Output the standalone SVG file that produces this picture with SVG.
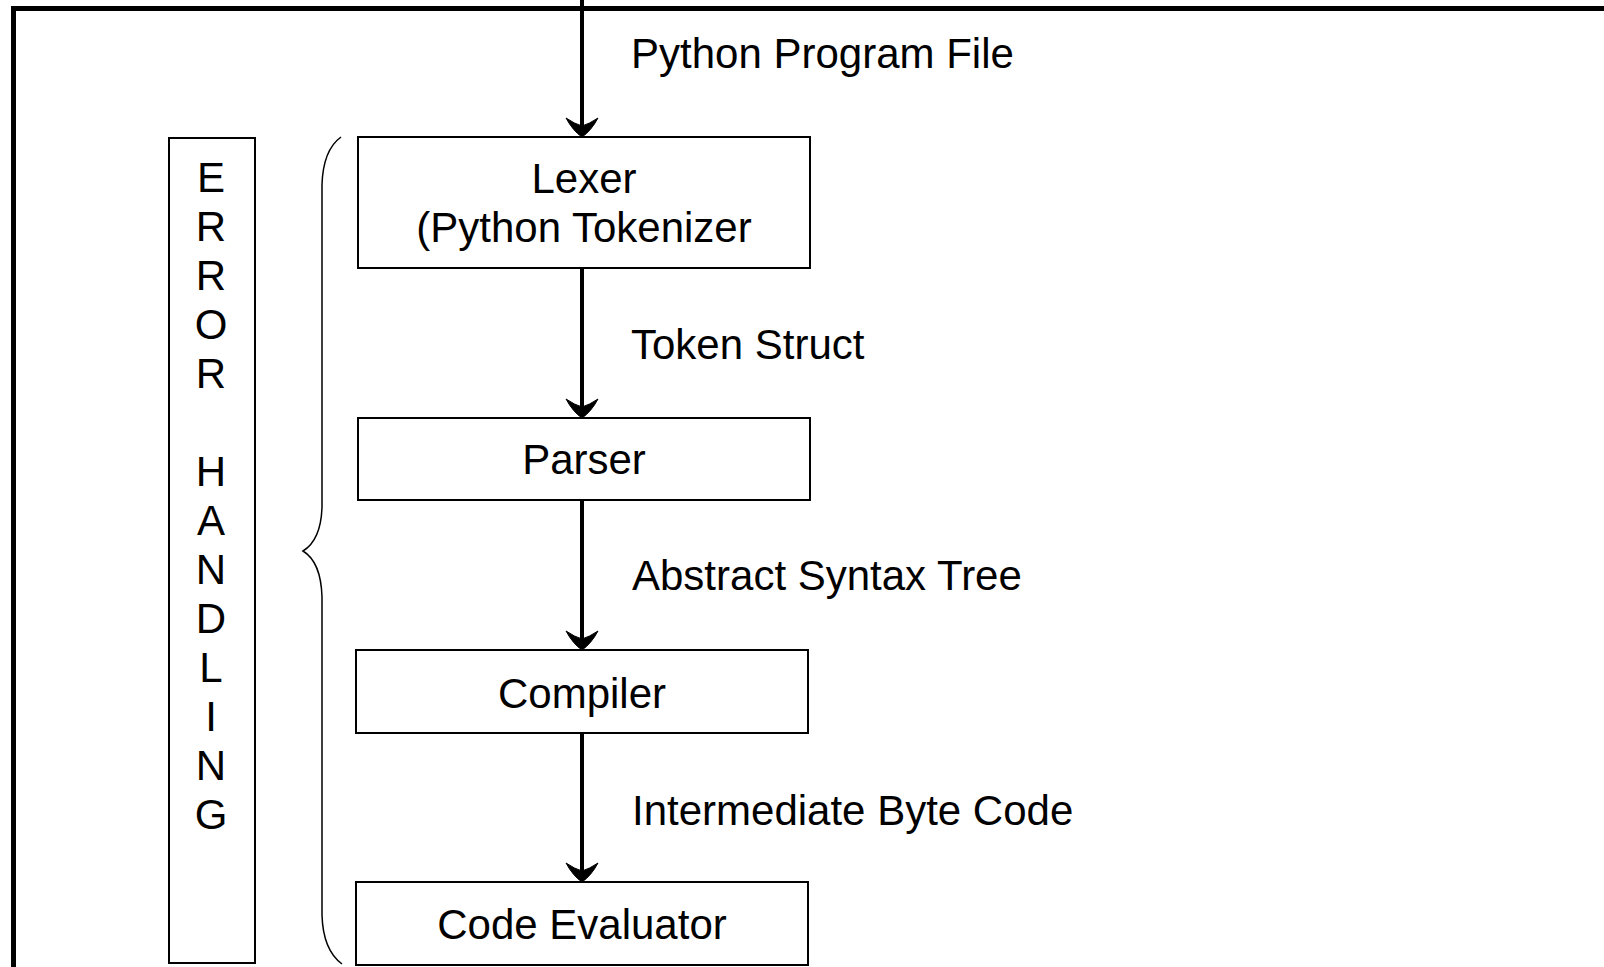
<svg xmlns="http://www.w3.org/2000/svg" width="1604" height="967" viewBox="0 0 1604 967">
<style>
text{font-family:"Liberation Sans",Arial,sans-serif;font-size:42px;fill:#000}
.box{fill:#fff;stroke:#000;stroke-width:2}
.c{text-anchor:middle}
.conn{stroke:#000;stroke-width:4;fill:none}
</style>
<defs>
<marker id="ah" markerUnits="userSpaceOnUse" markerWidth="44" markerHeight="44" viewBox="-22 -22 44 44" refX="0" refY="0" orient="auto">
<path d="M0 0 Q-6 -9 -19 -16 Q-13 -7 -11 0 Q-13 7 -19 16 Q-6 9 0 0 Z" fill="#000" stroke="#000" stroke-width="1"/>
</marker>
</defs>
<rect width="1604" height="967" fill="#fff"/>
<path id="frame" d="M13.5 967 V8.5 H1604" fill="none" stroke="#000" stroke-width="5"/>
<g id="error-handling">
<rect class="box" x="169" y="138" width="86" height="825"/>
<text class="c" x="211" y="192">E</text>
<text class="c" x="211" y="241">R</text>
<text class="c" x="211" y="290">R</text>
<text class="c" x="211" y="339">O</text>
<text class="c" x="211" y="388">R</text>
<text class="c" x="211" y="486">H</text>
<text class="c" x="211" y="535">A</text>
<text class="c" x="211" y="584">N</text>
<text class="c" x="211" y="633">D</text>
<text class="c" x="211" y="682">L</text>
<text class="c" x="211" y="731">I</text>
<text class="c" x="211" y="780">N</text>
<text class="c" x="211" y="829">G</text>
</g>
<g id="brace">
<path d="M341 137 Q323 150 322 185 V507 Q321 540 303 551 Q321 562 322 597 V915 Q323 950 342 964" fill="none" stroke="#000" stroke-width="1.5"/>
</g>
<g id="connectors">
<path class="conn" d="M582 0 V126 M582 137 V137.01" marker-end="url(#ah)"/>
<path class="conn" d="M582 268 V407 M582 418 V418.01" marker-end="url(#ah)"/>
<path class="conn" d="M582 500 V639 M582 650 V650.01" marker-end="url(#ah)"/>
<path class="conn" d="M582 733 V871 M582 882 V882.01" marker-end="url(#ah)"/>
<text x="631" y="68">Python Program File</text>
<text x="631" y="359">Token Struct</text>
<text x="632" y="590">Abstract Syntax Tree</text>
<text x="632" y="825">Intermediate Byte Code</text>
</g>
<g id="lexer">
<rect class="box" x="358" y="137" width="452" height="131"/>
<text class="c" x="584" y="193">Lexer</text>
<text class="c" x="584" y="242">(Python Tokenizer</text>
</g>
<g id="parser">
<rect class="box" x="358" y="418" width="452" height="82"/>
<text class="c" x="584" y="474">Parser</text>
</g>
<g id="compiler">
<rect class="box" x="356" y="650" width="452" height="83"/>
<text class="c" x="582" y="708">Compiler</text>
</g>
<g id="code-evaluator">
<rect class="box" x="356" y="882" width="452" height="83"/>
<text class="c" x="582" y="939">Code Evaluator</text>
</g>
</svg>
